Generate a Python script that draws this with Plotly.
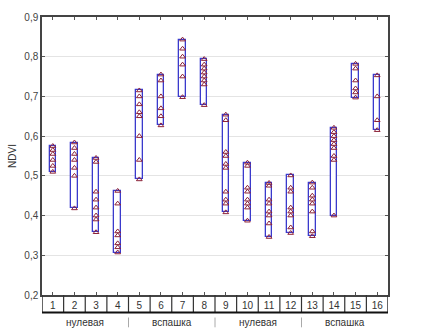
import plotly.graph_objects as go

categories = list(range(1, 16 + 1))
tick_labels = [str(c) for c in categories]
groups = ["нулевая", "вспашка", "нулевая", "вспашка"]
group_centers = [2.5, 6.5, 10.5, 14.5]
group_bounds = [4.5, 8.5, 12.5]

points = [
    [0.575, 0.565, 0.555, 0.54, 0.525, 0.51],
    [0.584, 0.57, 0.555, 0.54, 0.52, 0.50, 0.418],
    [0.545, 0.535, 0.46, 0.44, 0.42, 0.40, 0.39, 0.358],
    [0.462, 0.43, 0.36, 0.35, 0.33, 0.32, 0.307],
    [0.715, 0.70, 0.68, 0.66, 0.65, 0.60, 0.54, 0.491],
    [0.755, 0.74, 0.70, 0.67, 0.65, 0.627],
    [0.843, 0.82, 0.80, 0.78, 0.75, 0.698],
    [0.794, 0.78, 0.77, 0.76, 0.75, 0.74, 0.73, 0.678],
    [0.654, 0.64, 0.56, 0.55, 0.53, 0.52, 0.46, 0.44, 0.43, 0.408],
    [0.533, 0.525, 0.47, 0.46, 0.44, 0.43, 0.42, 0.387],
    [0.482, 0.475, 0.44, 0.43, 0.41, 0.40, 0.38, 0.346],
    [0.501, 0.47, 0.46, 0.42, 0.41, 0.40, 0.37, 0.356],
    [0.483, 0.47, 0.45, 0.44, 0.43, 0.41, 0.36, 0.348],
    [0.621, 0.61, 0.60, 0.59, 0.58, 0.57, 0.55, 0.54, 0.40],
    [0.782, 0.77, 0.74, 0.72, 0.71, 0.697],
    [0.753, 0.70, 0.64, 0.615],
]

mins = [min(p) for p in points]
maxs = [max(p) for p in points]

fig = go.Figure()
fig.add_trace(go.Bar(
    x=categories, base=mins, y=[mx - mn for mx, mn in zip(maxs, mins)],
    width=0.3, marker=dict(color="white", line=dict(color="#3a3acc", width=1.3)),
    hoverinfo="skip", showlegend=False,
))
xs, ys = [], []
for c, p in zip(categories, points):
    xs += [c] * len(p)
    ys += p
fig.add_trace(go.Scatter(
    x=xs, y=ys, mode="markers",
    marker=dict(symbol="triangle-up-open", size=5, color="#8c2238", line=dict(width=1)),
    showlegend=False,
))

H = 284.0
row = 18 / H
shapes = []
for b in [i + 0.5 for i in range(0, 17)]:
    shapes.append(dict(type="line", xref="x", yref="paper", x0=b, x1=b, y0=0, y1=-row,
                       line=dict(color="#333", width=1.2 if 0.5 < b < 16.5 else 1.5)))
shapes.append(dict(type="line", xref="x", yref="paper", x0=0.5, x1=16.5, y0=-row, y1=-row,
                   line=dict(color="#111", width=2)))
for b in group_bounds:
    shapes.append(dict(type="line", xref="x", yref="paper", x0=b, x1=b,
                       y0=-23 / H, y1=-33 / H, line=dict(color="#aaa", width=1)))

annotations = [dict(x=gc, y=-28 / H, xref="x", yref="paper", text=g, showarrow=False,
                    font=dict(size=10, color="#333", family="Liberation Sans"), yanchor="middle")
               for gc, g in zip(group_centers, groups)]

fig.update_layout(
    width=443, height=333,
    margin=dict(l=39, r=55, t=11, b=38),
    plot_bgcolor="white", paper_bgcolor="white",
    separators=", ",
    font=dict(family="Liberation Sans", size=10, color="#333"),
    shapes=shapes, annotations=annotations,
    bargap=0,
)
fig.update_xaxes(
    range=[0.5, 16.5], tickvals=categories, ticktext=tick_labels,
    ticks="inside", ticklen=3, tickcolor="#555", mirror="ticks",
    showline=True, linecolor="#444", linewidth=1.5, showgrid=False, zeroline=False,
    tickfont=dict(size=10, color="#333"),
)
fig.update_yaxes(
    range=[0.2, 0.9], dtick=0.1, tickformat=".1f",
    ticks="inside", ticklen=3, tickcolor="#555", mirror="ticks",
    showline=True, linecolor="#444", linewidth=1.5,
    showgrid=True, gridcolor="#e4e4e4", zeroline=False,
    tickfont=dict(size=10, color="#444"),
    title=dict(text="NDVI", font=dict(size=10, color="#333"), standoff=6),
)

fig.write_html("out.html", config={"displayModeBar": False},
               post_script="document.body.style.margin='0';")
